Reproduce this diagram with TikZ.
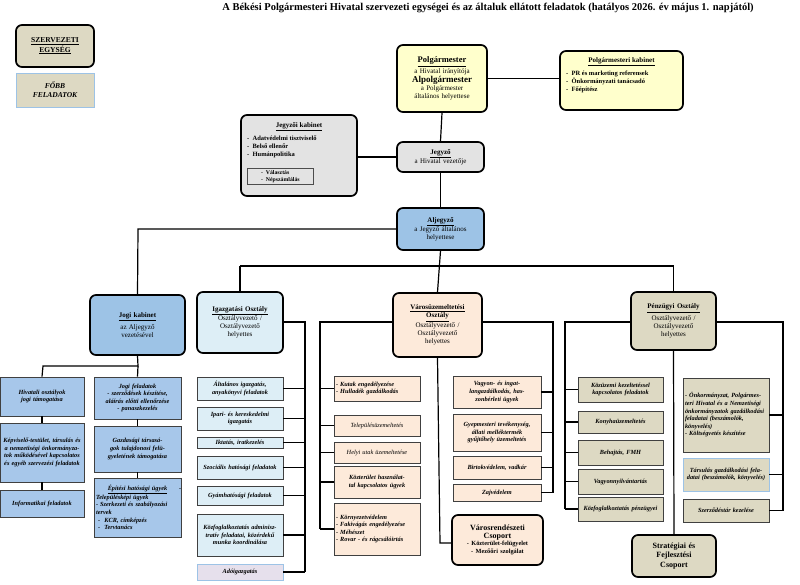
\documentclass[tikz,border=0pt]{standalone}
\usepackage{fontspec}
\setmainfont{Liberation Serif}
\begin{document}
\begin{tikzpicture}[x=1pt,y=-1pt,
 unit/.style={draw,rounded corners=6pt,line width=1.7pt,align=center,font=\fontsize{7}{8}\selectfont},
 task/.style={draw=black!75,line width=0.7pt,align=center,font=\fontsize{6.3}{7.6}\selectfont\bfseries\itshape},
 conn/.style={line width=1.2pt}]
\definecolor{cyel}{HTML}{FFFFCC}
\definecolor{cgray}{HTML}{E3E3E3}
\definecolor{cblue}{HTML}{9DC3E6}
\definecolor{cblue2}{HTML}{A7C7EA}
\definecolor{clblue}{HTML}{DDEEF6}
\definecolor{cpeach}{HTML}{FDEADA}
\definecolor{ckhaki}{HTML}{DDD9C3}
\definecolor{clav}{HTML}{E6E0EC}
\useasboundingbox (0,0) rectangle (800,584);
\newcommand\bx[7]{\pgfmathsetmacro\tw{#5-#3-4}\node[#2,minimum width={#5-#3},minimum height={#6-#4},text width=\tw pt,inner xsep=2pt,inner ysep=1pt] (#1) at ({(#3+#5)/2},{(#4+#6)/2}) {#7};}
% title
\node[font=\fontsize{10.5}{12}\selectfont\bfseries] (title) at (488,8) {A Békési Polgármesteri Hivatal szervezeti egységei és az általuk ellátott feladatok (hatályos 2026. év május 1. napjától)};
% legend
\bx{leg1}{unit,fill=ckhaki,font=\fontsize{7.5}{8.5}\selectfont\bfseries}{16}{25}{94}{67}{\underline{SZERVEZETI}\\\underline{EGYSÉG}}
\bx{leg2}{task,fill=ckhaki,draw=cblue,font=\fontsize{7.5}{9}\selectfont\bfseries\itshape}{16}{73}{94}{107}{FŐBB\\FELADATOK}
% top
\bx{polg}{unit,fill=cyel}{397}{45}{487}{112}{{\fontsize{8.5}{10}\selectfont\bfseries\underline{Polgármester}}\\[1pt] a Hivatal irányítója\\[1pt]{\fontsize{9}{10}\selectfont\bfseries Alpolgármester}\\ a Polgármester\\ általános helyettese}
\bx{pkab}{unit,fill=cyel}{560}{51}{683}{110}{}
\node[font=\fontsize{7}{8}\selectfont\bfseries] (pkabt) at (621.5,62) {\underline{Polgármesteri kabinet}};
\node[anchor=north west,align=left,font=\fontsize{6.5}{8}\selectfont\bfseries,inner sep=0pt] (pkabl) at (566,71) {-\ \ PR és marketing referensek\\-\ \ Önkormányzati tanácsadó\\-\ \ Főépítész};
\bx{jegyzo}{unit,fill=cgray}{397}{142}{484}{172}{{\bfseries\underline{Jegyző}}\\ a Hivatal vezetője}
\bx{jkab}{unit,fill=cgray}{241}{115}{357}{196}{}
\node[font=\fontsize{7}{8}\selectfont\bfseries] (jkabt) at (299,127) {\underline{Jegyzői kabinet}};
\node[anchor=north west,align=left,font=\fontsize{6.5}{8}\selectfont\bfseries,inner sep=0pt] (jkabl) at (247,136) {-\ \ Adatvédelmi tisztviselő\\-\ \ Belső ellenőr\\-\ \ Humánpolitika};
\node[draw=black!70,line width=0.7pt,anchor=north west,align=left,font=\fontsize{5.8}{7}\selectfont\bfseries,minimum width=66pt,inner sep=2pt] (jkin) at (247,168) {-\ \ Választás\\-\ \ Népszámlálás};
\bx{aljegyzo}{unit,fill=cblue}{397}{208}{484}{250}{{\bfseries\underline{Aljegyző}}\\ a Jegyző általános\\ helyettese}
% departments
\bx{jogi}{unit,fill=cblue}{90}{295}{185}{355}{{\bfseries\underline{Jogi kabinet}}\\[2pt] az Aljegyző\\ vezetésével}
\bx{igaz}{unit,fill=clblue}{197}{292}{283}{353}{{\bfseries\underline{Igazgatási Osztály}}\\ Osztályvezető /\\ Osztályvezető\\ helyettes}
\bx{varos}{unit,fill=cpeach}{393}{293}{482}{357}{{\bfseries\underline{Városüzemeltetési}}\\{\bfseries\underline{Osztály}}\\ Osztályvezető /\\ Osztályvezető\\ helyettes}
\bx{penz}{unit,fill=ckhaki}{631}{292}{716}{350}{{\bfseries\underline{Pénzügyi Osztály}}\\[2pt] Osztályvezető /\\ Osztályvezető\\ helyettes}
\bx{vrend}{unit,fill=cpeach}{452}{515}{543}{565}{{\fontsize{8}{9.5}\selectfont\bfseries Városrendészeti\\ Csoport}\\{\fontsize{6.3}{7.5}\selectfont\bfseries - Közterület-felügyelet\\ - Mezőőri szolgálat}}
\bx{strat}{unit,fill=ckhaki,font=\fontsize{8}{9.5}\selectfont\bfseries}{632}{535}{716}{577}{Stratégiai és\\ Fejlesztési\\ Csoport}
% Jogi children
\bx{j1}{task,fill=cblue2}{0}{377}{84}{416}{Hivatali osztályok jogi támogatása}
\bx{j2}{task,fill=cblue2}{0}{423}{84}{482}{Képviselő-testület, társulás és a nemzetiségi önkormányzatok működésével kapcsolatos és egyéb szervezési feladatok}
\bx{j3}{task,fill=cblue2}{0}{490}{84}{517}{Informatikai feladatok}
\bx{j4}{task,fill=cblue2}{94}{377}{181}{419}{Jogi feladatok\\ - szerződések készítése, aláírás előtti ellenőrzése\\ - panaszkezelés}
\bx{j5}{task,fill=cblue2}{94}{426}{181}{472}{Gazdasági társaságok tulajdonosi felügyeletének támogatása}
\bx{j6}{task,fill=cblue2,align=left}{94}{478}{181}{537}{\centerline{\underline{Építési hatósági ügyek}}- Településképi ügyek\\- Szerkezeti és szabályozási tervek\\\ - \ KCR, címképzés\\\ - \ Tervtanács}
% Igazgatasi children
\bx{i1}{task,fill=clblue}{197}{377}{283}{400}{Általános igazgatás, anyakönyvi feladatok}
\bx{i2}{task,fill=clblue}{197}{407}{283}{430}{Ipari- és kereskedelmi igazgatás}
\bx{i3}{task,fill=clblue}{197}{437}{283}{448}{Iktatás, iratkezelés}
\bx{i4}{task,fill=clblue}{197}{456}{283}{479}{Szociális hatósági feladatok}
\bx{i5}{task,fill=clblue}{197}{486}{283}{505}{Gyámhatósági feladatok}
\bx{i6}{task,fill=clblue}{197}{514}{283}{556}{Közfoglalkoztatás adminisztratív feladatai, közérdekű munka koordinálása}
\bx{i7}{task,fill=clav,draw=cblue}{197}{564}{283}{580}{Adóigazgatás}
% Varos left children
\bx{v1}{task,fill=cpeach,align=left}{334}{376}{420}{401}{- Kutak engedélyezése\\- Hulladék gazdálkodás}
\bx{v2}{task,fill=cpeach,font=\fontsize{6.3}{7.6}\selectfont\itshape}{334}{415}{420}{436}{Településüzemeltetés}
\bx{v3}{task,fill=cpeach,font=\fontsize{6.3}{7.6}\selectfont\itshape}{334}{442}{420}{463}{Helyi utak üzemeltetése}
\bx{v4}{task,fill=cpeach}{334}{466}{420}{498}{Közterület használattal kapcsolatos ügyek}
\bx{v5}{task,fill=cpeach,align=left}{334}{503}{420}{555}{- Környezetvédelem\\- Fakivágás engedélyezése\\- Méhészet\\- Rovar - és rágcsálóirtás}
% Varos right children
\bx{v6}{task,fill=cpeach}{453}{376}{541}{408}{Vagyon- és ingatlangazdálkodás, haszonbérleti ügyek}
\bx{v7}{task,fill=cpeach}{453}{414}{541}{451}{Gyepmesteri tevékenység, állati melléktermék gyűjtőhely üzemeltetés}
\bx{v8}{task,fill=cpeach}{453}{456}{541}{479}{Birtokvédelem, vadkár}
\bx{v9}{task,fill=cpeach}{453}{484}{541}{501}{Zajvédelem}
% Penz left children
\bx{p1}{task,fill=ckhaki}{578}{377}{663}{402}{Közüzemi kezeltetéssel kapcsolatos feladatok}
\bx{p2}{task,fill=ckhaki}{578}{411}{663}{433}{Konyhaüzemeltetés}
\bx{p3}{task,fill=ckhaki}{578}{440}{663}{465}{Behajtás, FMH}
\bx{p4}{task,fill=ckhaki}{578}{469}{663}{494}{Vagyonnyilvántartás}
\bx{p5}{task,fill=ckhaki}{578}{497}{663}{521}{Közfoglalkoztatás pénzügyei}
% Penz right children
\bx{p6}{task,fill=ckhaki,align=left}{683}{378}{769}{452}{- Önkormányzat, Polgármesteri Hivatal és a Nemzetiségi önkormányzatok gazdálkodási feladatai (beszámolók, könyvelés)\\- Költségvetés készítése}
\bx{p7}{task,fill=ckhaki,draw=cblue}{683}{458}{769}{491}{Társulás gazdálkodási feladatai (beszámolók, könyvelés)}
\bx{p8}{task,fill=ckhaki}{683}{499}{769}{522}{Szerződéstár kezelése}
% coordinates
\coordinate (hb) at (440,266);
\coordinate (jl) at (138,229);
\coordinate (jd) at (138,366);
\coordinate (jL) at (43,366);
\coordinate (isp) at (305,322);
\coordinate (vsl) at (320,322);
\coordinate (vsr) at (553,322);
\coordinate (vrd) at (440,543);
\coordinate (psl) at (565,322);
\coordinate (psr) at (783,322);
% connectors
\draw[conn] (polg.east) -- (pkab.west |- polg.east);
\draw[conn] (polg.south) -- (jegyzo.north);
\draw[conn] (jegyzo.west) -- (jkab.east |- jegyzo.west);
\draw[conn] (jegyzo.south) -- (aljegyzo.north);
\draw[conn] (aljegyzo.west |- jl) -- (jl) -- (jogi.north);
\draw[conn] (aljegyzo.south) -- (varos.north);
\draw[conn] (igaz.north |- hb) -- (penz.north |- hb);
\draw[conn] (igaz.north |- hb) -- (igaz.north);
\draw[conn] (penz.north |- hb) -- (penz.north);
\draw[conn] (jogi.south) -- (jd) -- (jL) -- (j1.north);
\draw[conn] (j1.south) -- (j2.north); \draw[conn] (j2.south) -- (j3.north);
\draw[conn] (j4.south) -- (j5.north); \draw[conn] (j5.south) -- (j6.north);
\draw[conn] (jd) -- (j4.north);
\draw[conn] (igaz.east |- isp) -- (isp) -- (isp |- i7.east);
\foreach \n in {i1,i2,i3,i4,i5,i6,i7} \draw[conn] (\n.east) -- (\n.east -| isp);
\draw[conn] (varos.west |- vsl) -- (vsl) -- (vsl |- v5.west);
\foreach \n in {v1,v2,v3,v4,v5} \draw[conn] (\n.west) -- (\n.west -| vsl);
\draw[conn] (varos.east |- vsr) -- (vsr) -- (vsr |- v9.east);
\foreach \n in {v6,v7,v8,v9} \draw[conn] (\n.east) -- (\n.east -| vsr);
\draw[conn] (varos.south) -- (vrd) -- (vrend.west |- vrd);
\draw[conn] (penz.west |- psl) -- (psl) -- (psl |- p5.west);
\foreach \n in {p1,p2,p3,p4,p5} \draw[conn] (\n.west) -- (\n.west -| psl);
\draw[conn] (penz.east |- psr) -- (psr) -- (psr |- p8.east);
\foreach \n in {p6,p7,p8} \draw[conn] (\n.east) -- (\n.east -| psr);
\draw[conn] (penz.south) -- (strat.north);
\end{tikzpicture}
\end{document}
